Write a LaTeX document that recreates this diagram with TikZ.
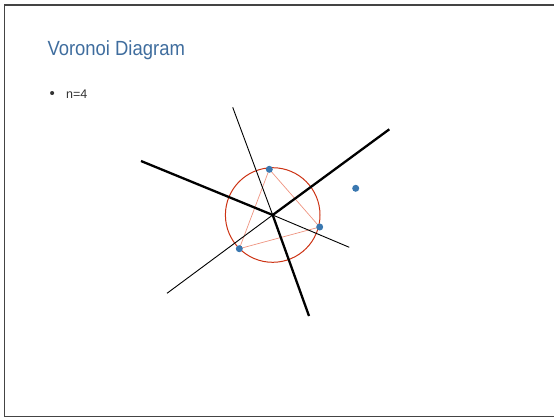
\documentclass[tikz,border=0pt]{standalone}
\usepackage{fontspec}
\setmainfont{Liberation Sans}
\definecolor{titleblue}{HTML}{3F6D9E}
\definecolor{ptblue}{HTML}{3A78B0}
\definecolor{circred}{HTML}{CC3314}
\definecolor{trired}{HTML}{EE9480}
\definecolor{framegray}{HTML}{444444}
\definecolor{textgray}{HTML}{333333}
\begin{document}
\begin{tikzpicture}[x=1pt,y=-1pt,
  site/.style={circle,fill=ptblue,inner sep=0pt,minimum size=7pt},
  thickedge/.style={line width=2.3pt,black},
  thinedge/.style={line width=0.9pt,black},
  tri/.style={line width=0.7pt,trired},
  framestyle/.style={line width=1.3pt,framegray}]
\useasboundingbox (0,0) rectangle (554,418);
% frame
\coordinate (fTR) at (554,5);
\coordinate (fTL) at (4.7,5);
\coordinate (fBL) at (4.7,416.8);
\coordinate (fBR) at (554,416.8);
\draw[framestyle] (fTR) -- (fTL) -- (fBL) -- (fBR);
% texts
\node[anchor=base west,inner sep=0pt,text=titleblue,font=\fontsize{20.5}{24}\selectfont] (title) at (47.3,55) {\scalebox{0.9}[1]{Voronoi Diagram}};
\node[anchor=base,inner sep=0pt,text=textgray,font=\fontsize{15}{18}\selectfont] (bullet) at (52.3,98.3) {•};
\node[anchor=base west,inner sep=0pt,text=textgray,font=\fontsize{12.5}{15}\selectfont] (item) at (66,98.3) {n=4};
% geometry
\coordinate (C) at (272.7,215);
\coordinate (s1) at (269.3,169.3);
\coordinate (s2) at (319.7,227);
\coordinate (s3) at (239.3,248.7);
\coordinate (s4) at (355.7,188.3);
\coordinate (eL) at (141,161);
\coordinate (eUR) at (389.3,129.3);
\coordinate (eB) at (309,316);
\coordinate (eT) at (232.7,107.3);
\coordinate (eLL) at (167,293.3);
\coordinate (eR) at (349.3,247.3);
\draw[tri] (s1) -- (s2) -- (s3) -- cycle;
\draw[circred,line width=1pt] (C) circle (47.3);
\draw[thinedge] (C) -- (eT);
\draw[thinedge] (C) -- (eLL);
\draw[thinedge] (C) -- (eR);
\draw[thickedge] (C) -- (eL);
\draw[thickedge] (C) -- (eUR);
\draw[thickedge] (C) -- (eB);
\node[site] (p1) at (s1) {};
\node[site] (p2) at (s2) {};
\node[site] (p3) at (s3) {};
\node[site] (p4) at (s4) {};
\end{tikzpicture}
\end{document}
